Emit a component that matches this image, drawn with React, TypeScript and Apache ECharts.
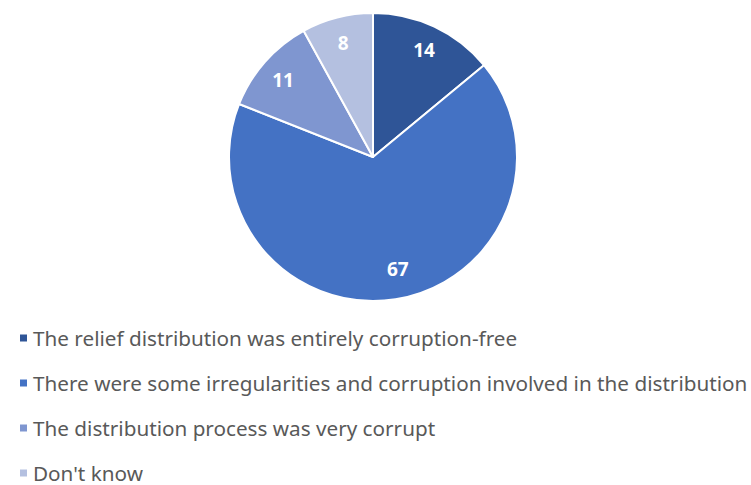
import React, { useEffect, useRef } from "react";
import * as echarts from "echarts";

const categories = [
  "The relief distribution was entirely corruption-free",
  "There were some irregularities and corruption involved in the distribution",
  "The distribution process was very corrupt",
  "Don't know",
];
const values = [14, 67, 11, 8];
const colors = ["#2F5597", "#4472C4", "#7F96D0", "#B4C0E0"];

export default function App() {
  const ref = useRef<HTMLDivElement>(null);
  useEffect(() => {
    if (!ref.current) return;
    const chart = echarts.init(ref.current, undefined, { renderer: "svg" });
    const data = categories.map((name, i) => ({
      name,
      value: values[i],
      itemStyle: { color: colors[i] },
    }));
    chart.setOption({
      animation: false,
      legend: {
        orient: "vertical",
        left: 13,
        top: 322,
        height: 161,
        icon: "rect",
        itemWidth: 9,
        itemHeight: 9,
        itemGap: 23,
        textStyle: {
          fontFamily: "Noto Sans",
          fontSize: 20.7,
          color: "#595959",
          lineHeight: 22,
        },
        data: categories,
      },
      series: [
        {
          type: "pie",
          center: [373, 157],
          radius: [0, 144],
          startAngle: 90,
          clockwise: true,
          label: { show: false },
          labelLine: { show: false },
          itemStyle: { borderColor: "#ffffff", borderWidth: 2 },
          emphasis: { disabled: true },
          data,
        },
        {
          type: "pie",
          center: [373, 159],
          radius: [90, 144],
          startAngle: 90,
          clockwise: true,
          silent: true,
          legendHoverLink: false,
          itemStyle: { color: "rgba(0,0,0,0)" },
          label: {
            show: true,
            position: "inside",
            formatter: "{c}",
            color: "#ffffff",
            fontFamily: "Open Sans",
            fontWeight: "bold",
            fontSize: 19,
          },
          labelLine: { show: false },
          emphasis: { disabled: true },
          data: categories.map((name, i) => ({
            name: name + " ",
            value: values[i],
            label: i === 1 ? { offset: [6, -9] } : undefined,
          })),
        },
      ],
    });
    return () => chart.dispose();
  }, []);
  return (
    <div
      ref={ref}
      style={{ position: "absolute", left: 0, top: 0, width: 751, height: 485 }}
    />
  );
}
